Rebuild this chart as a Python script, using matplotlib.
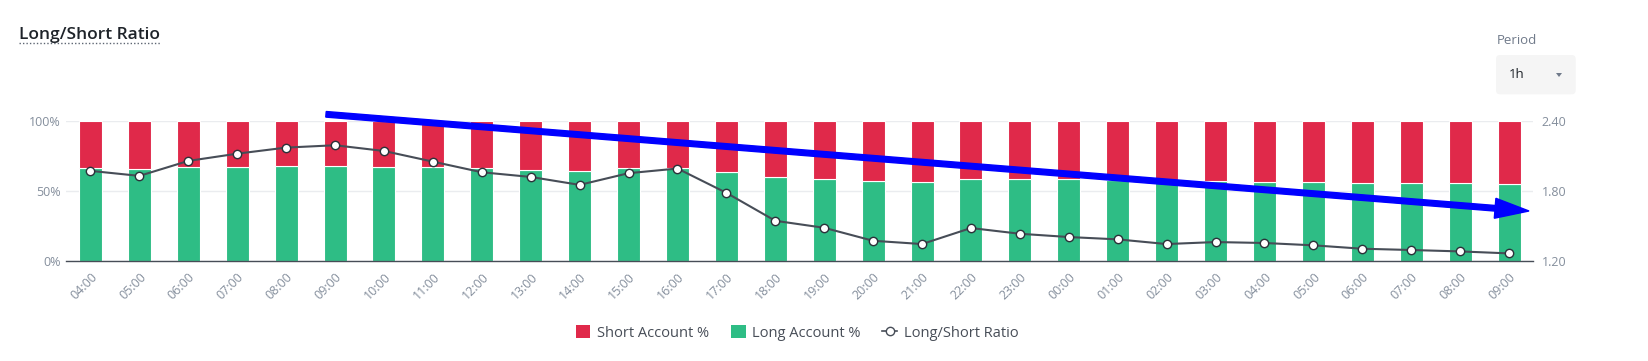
import matplotlib
matplotlib.use("Agg")
import matplotlib.pyplot as plt
from matplotlib.patches import Patch, FancyBboxPatch, FancyArrow, Polygon
from matplotlib.lines import Line2D
from matplotlib.transforms import IdentityTransform
import numpy as np

plt.rcParams['font.family'] = ['Open Sans', 'DejaVu Sans']

hours = ["04:00", "05:00", "06:00", "07:00", "08:00", "09:00", "10:00", "11:00",
         "12:00", "13:00", "14:00", "15:00", "16:00", "17:00", "18:00", "19:00",
         "20:00", "21:00", "22:00", "23:00", "00:00", "01:00", "02:00", "03:00",
         "04:00", "05:00", "06:00", "07:00", "08:00", "09:00"]
long_pct = [66.1, 65.4, 66.8, 67.3, 68.0, 68.0, 67.3, 66.8, 66.1, 65.2,
            64.5, 66.1, 66.1, 63.7, 60.2, 58.8, 57.3, 56.6, 58.8, 58.1,
            58.1, 57.8, 57.6, 57.3, 56.6, 56.6, 55.9, 55.9, 55.9, 55.2]
short_pct = [100 - v for v in long_pct]
ratio = [1.971, 1.928, 2.056, 2.118, 2.170, 2.190, 2.141, 2.050, 1.959, 1.919,
         1.851, 1.951, 1.991, 1.783, 1.544, 1.484, 1.373, 1.345, 1.482, 1.433,
         1.405, 1.385, 1.345, 1.362, 1.354, 1.334, 1.305, 1.294, 1.282, 1.265]
left_ticks = [0, 50, 100]
left_labels = ["0%", "50%", "100%"]
right_ticks = [1.20, 1.80, 2.40]

RED = "#E0294A"
GREEN = "#2EBD85"
LINE = "#474D57"
TXT = "#848E9C"
GRID = "#EAECEF"

W, H = 1649, 361
fig = plt.figure(figsize=(W / 100, H / 100), dpi=100)
ax = fig.add_axes([66 / W, 1 - 261 / H, (1533.5 - 66) / W, (261 - 120.7) / H])

x = np.arange(len(hours))
ax.bar(x, long_pct, width=0.47, color=GREEN, edgecolor="white", linewidth=0.8, zorder=2)
ax.bar(x, short_pct, bottom=long_pct, width=0.47, color=RED, edgecolor="white", linewidth=0.8, zorder=2)
ax.set_xlim(-0.5, len(hours) - 0.5)
ax.set_ylim(0, 100)
ax.set_yticks(left_ticks)
ax.set_yticklabels(left_labels)
ax.set_xticks(x)
ax.set_xticklabels(hours, rotation=45, ha="right", rotation_mode="anchor")
ax.tick_params(axis="both", length=0, labelsize=9, colors=TXT, pad=4)
ax.tick_params(axis="x", pad=7)
for s in ["top", "right", "left"]:
    ax.spines[s].set_visible(False)
ax.spines["bottom"].set_color(LINE)
ax.spines["bottom"].set_linewidth(1.0)
ax.spines["bottom"].set_zorder(5)
ax.grid(axis="y", color=GRID, linewidth=1, zorder=0)
ax.set_axisbelow(True)

ax2 = ax.twinx()
ax2.plot(x, ratio, color=LINE, linewidth=1.5, marker="o", markersize=6,
         markerfacecolor="white", markeredgecolor="#2B3139", markeredgewidth=1.0, zorder=4)
ax2.set_ylim(1.2, 2.4)
ax2.set_yticks(right_ticks)
ax2.set_yticklabels([f"{v:.2f}" for v in right_ticks])
ax2.tick_params(axis="y", length=0, labelsize=9, colors=TXT, pad=6)
for s in ["top", "right", "left", "bottom"]:
    ax2.spines[s].set_visible(False)

# Title with dotted underline
fig.text(19 / W, 1 - 39 / H, "Long/Short Ratio", fontsize=12.5, fontweight="semibold",
         color="#1E2329", ha="left", va="baseline")
fig.add_artist(Line2D([19, 160], [H - 43.3, H - 43.3], transform=IdentityTransform(),
                      color="#5E6673", linewidth=1, linestyle=(0, (1, 1.5))))

# Period selector
fig.text(1497 / W, 1 - 40 / H, "Period", fontsize=9.5, color="#707A8A", ha="left", va="center")
fig.add_artist(FancyBboxPatch((1496, H - 94.3), 79.7, 39.3, transform=IdentityTransform(),
                              boxstyle="round,pad=0,rounding_size=4",
                              facecolor="#F5F5F5", edgecolor="none"))
fig.text(1509 / W, 1 - 75 / H, "1h", fontsize=9.5, color="#1E2329", ha="left", va="center")
fig.add_artist(Polygon([[1556, H - 73], [1562, H - 73], [1559, H - 77]], closed=True,
                       transform=IdentityTransform(), facecolor="#707A8A", edgecolor="none"))

# Blue trend arrow annotation
x0, y0 = 326, H - 114.3
x1, y1 = 1529, H - 211
fig.add_artist(FancyArrow(x0, y0, x1 - x0, y1 - y0, width=5.6, head_width=20,
                          head_length=34, length_includes_head=True,
                          transform=IdentityTransform(), color="#0000FF", zorder=10))

# Legend
handles = [Patch(facecolor=RED, edgecolor="none", label="Short Account %"),
           Patch(facecolor=GREEN, edgecolor="none", label="Long Account %"),
           Line2D([], [], color=LINE, linewidth=1.2, marker="o", markersize=6,
                  markerfacecolor="white", markeredgecolor=LINE, label="Long/Short Ratio")]
fig.legend(handles=handles, loc="center", bbox_to_anchor=(797 / W, 1 - 333 / H), ncol=3,
           frameon=False, fontsize=10.5, handlelength=1.0, handleheight=1.0,
           handletextpad=0.45, columnspacing=1.5, labelcolor="#474D57")

fig.savefig("out.png", dpi=100)
